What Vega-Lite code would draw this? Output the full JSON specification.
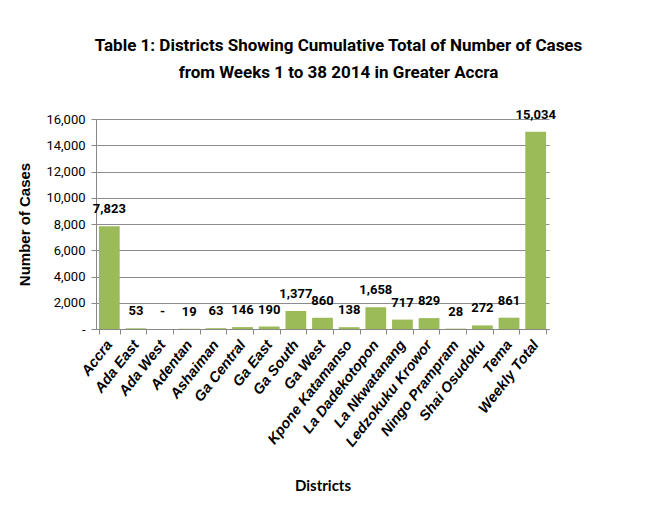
{
  "$schema": "https://vega.github.io/schema/vega-lite/v6.json",
  "width": 453,
  "height": 210,
  "autosize": {"type": "none"},
  "padding": {"left": 96, "top": 119, "right": 100, "bottom": 182},
  "background": "white",
  "title": {
    "text": ["Table 1: Districts  Showing  Cumulative  Total of Number of Cases", "from   Weeks 1 to 38    2014  in Greater Accra"],
    "font": "Roboto",
    "fontSize": 17,
    "fontWeight": "bold",
    "color": "#000000",
    "lineHeight": 27,
    "anchor": "middle",
    "dx": 16,
    "offset": 27
  },
  "data": {
    "values": [
      {"district": "Accra", "cases": 7823},
      {"district": "Ada East", "cases": 53},
      {"district": "Ada West", "cases": 0},
      {"district": "Adentan", "cases": 19},
      {"district": "Ashaiman", "cases": 63},
      {"district": "Ga Central", "cases": 146},
      {"district": "Ga East", "cases": 190},
      {"district": "Ga South", "cases": 1377},
      {"district": "Ga West", "cases": 860},
      {"district": "Kpone Katamanso", "cases": 138},
      {"district": "La Dadekotopon", "cases": 1658},
      {"district": "La Nkwatanang", "cases": 717},
      {"district": "Ledzokuku Krowor", "cases": 829},
      {"district": "Ningo Prampram", "cases": 28},
      {"district": "Shai Osudoku", "cases": 272},
      {"district": "Tema", "cases": 861},
      {"district": "Weekly Total", "cases": 15034}
    ]
  },
  "encoding": {
    "x": {
      "field": "district",
      "type": "nominal",
      "sort": null,
      "scale": {"paddingInner": 0.22, "paddingOuter": 0.11},
      "axis": {
        "title": "Districts",
        "titleFont": "Lato",
        "titleFontSize": 15,
        "titleFontWeight": "bold",
        "titleColor": "#000000",
        "titlePadding": 30,
        "labelAngle": -52,
        "labelFont": "Liberation Sans",
        "labelFontSize": 14.5,
        "labelFontWeight": "bold",
        "labelFontStyle": "italic",
        "labelColor": "#000000",
        "labelPadding": 8,
        "tickBand": "extent",
        "tickColor": "#888888",
        "tickSize": 5,
        "domainColor": "#888888"
      }
    },
    "y": {
      "field": "cases",
      "type": "quantitative",
      "scale": {"domain": [0, 16000]},
      "axis": {
        "title": "Number of Cases",
        "titleFont": "Liberation Sans",
        "titleFontSize": 15,
        "titleFontWeight": "bold",
        "titleColor": "#000000",
        "titlePadding": 13,
        "values": [0, 2000, 4000, 6000, 8000, 10000, 12000, 14000, 16000],
        "labelExpr": "datum.value == 0 ? '-' : format(datum.value, ',')",
        "labelFont": "Roboto",
        "labelFontSize": 13,
        "labelColor": "#000000",
        "labelPadding": 6,
        "tickColor": "#888888",
        "tickSize": 5,
        "domainColor": "#888888",
        "gridColor": "#8c8c8c",
        "gridWidth": 1
      }
    }
  },
  "layer": [
    {"mark": {"type": "bar", "color": "#9BBB59"}},
    {
      "mark": {"type": "text", "baseline": "bottom", "dy": -10, "font": "Roboto", "fontSize": 13, "fontWeight": "bold", "color": "#000000",
        "text": {"expr": "datum.cases == 0 ? '-' : format(datum.cases, ',')"}}
    }
  ],
  "config": {
    "view": {"stroke": null}
  }
}
